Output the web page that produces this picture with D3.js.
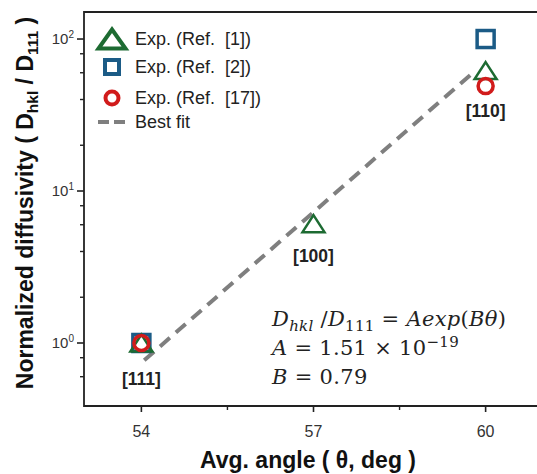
<!DOCTYPE html>
<html>
<head>
<meta charset="utf-8">
<script src="https://cdn.jsdelivr.net/npm/d3@7"></script>
<style>
  body { margin: 0; background: #fff; }
  svg { display: block; }
  .tick-label { font-family: "Liberation Sans", Arial, sans-serif; fill: #333; }
  .axis-title { font-family: "Liberation Sans", Arial, sans-serif; font-weight: bold; fill: #111; }
  .legend text { font-family: "Liberation Sans", Arial, sans-serif; font-size: 18px; fill: #222; white-space: pre; }
  .facet { font-family: "Liberation Sans", Arial, sans-serif; font-weight: bold; font-size: 17.5px; fill: #222; }
  .eq { font-family: "DejaVu Serif", serif; font-size: 21px; letter-spacing: 0.3px; fill: #222; white-space: pre; }
</style>
</head>
<body>
<div id="chart"></div>
<script>
// values
var refLabels = ["Exp. (Ref.  [1])", "Exp. (Ref.  [2])", "Exp. (Ref.  [17])", "Best fit"];
var ref1Angles = [54, 57, 60];
var ref1Values = [1, 6.1, 62];
var ref2Angles = [54, 60];
var ref2Values = [1, 100];
var ref17Angles = [54, 60];
var ref17Values = [1, 49];
var fitAngles = [54.05, 59.8];
var fitValues = [0.77, 61];
var facetLabels = ["[111]", "[100]", "[110]"];
var facetAngles = [54, 57, 60];
var facetValues = [1, 6.1, 49];
var xTicks = [54, 57, 60];
var xMinorTicks = [55.5, 58.5];
var yTicks = [1, 10, 100];
var yTickExp = ["0", "1", "2"];
var yMinorTicks = [0.6, 0.8, 2, 4, 6, 8, 20, 40, 60, 80];

var W = 537, H = 474;
var margin = { top: 12, left: 84, bottom: 68 };
var plotH = H - margin.top - margin.bottom;

var colors = { ref1: "#1d6b32", ref2: "#1b5b86", ref17: "#d11b1b", fit: "#7f7f7f" };

var x = d3.scaleLinear().domain([53, 61]).range([margin.left, margin.left + 459]);
var y = d3.scaleLog().domain([0.385, 150.6]).range([margin.top + plotH, margin.top]);

var svg = d3.select("#chart").append("svg")
    .attr("width", W)
    .attr("height", H);

// frame: left, top, bottom
var x0 = margin.left, yTop = margin.top, yBot = margin.top + plotH;
svg.append("path")
    .attr("d", "M" + W + "," + yTop + "H" + x0 + "V" + yBot + "H" + W)
    .attr("fill", "none")
    .attr("stroke", "#222")
    .attr("stroke-width", 1.8);

// x ticks
svg.selectAll(".xtick").data(xTicks).enter().append("line")
    .attr("x1", function (d) { return x(d); }).attr("x2", function (d) { return x(d); })
    .attr("y1", yBot).attr("y2", yBot + 6)
    .attr("stroke", "#222").attr("stroke-width", 1.6);
svg.selectAll(".xminor").data(xMinorTicks).enter().append("line")
    .attr("x1", function (d) { return x(d); }).attr("x2", function (d) { return x(d); })
    .attr("y1", yBot).attr("y2", yBot + 4)
    .attr("stroke", "#222").attr("stroke-width", 1.4);
svg.selectAll(".xlab").data(xTicks).enter().append("text")
    .attr("class", "tick-label")
    .attr("x", function (d) { return x(d); })
    .attr("y", yBot + 31)
    .attr("text-anchor", "middle")
    .attr("font-size", 16)
    .text(function (d) { return d; });

// y ticks
svg.selectAll(".ytick").data(yTicks).enter().append("line")
    .attr("x1", x0 - 7).attr("x2", x0)
    .attr("y1", function (d) { return y(d); }).attr("y2", function (d) { return y(d); })
    .attr("stroke", "#222").attr("stroke-width", 1.6);
svg.selectAll(".yminor").data(yMinorTicks).enter().append("line")
    .attr("x1", x0 - 4).attr("x2", x0)
    .attr("y1", function (d) { return y(d); }).attr("y2", function (d) { return y(d); })
    .attr("stroke", "#222").attr("stroke-width", 1.4);
var ylab = svg.selectAll(".ylab").data(yTicks).enter().append("text")
    .attr("class", "tick-label")
    .attr("x", x0 - 10)
    .attr("y", function (d) { return y(d) + 5; })
    .attr("text-anchor", "end")
    .attr("font-size", 15);
ylab.append("tspan").text("10");
ylab.append("tspan").attr("dy", -6).attr("font-size", 10).text(function (d, i) { return yTickExp[i]; });

// axis titles
svg.append("text")
    .attr("class", "axis-title")
    .attr("x", 308).attr("y", 468)
    .attr("text-anchor", "middle")
    .attr("font-size", 23)
    .text("Avg. angle ( θ, deg )");

var yt = svg.append("text")
    .attr("class", "axis-title")
    .attr("transform", "translate(33," + 203 + ") rotate(-90)")
    .attr("text-anchor", "middle")
    .attr("font-size", 23);
yt.append("tspan").text("Normalized diffusivity ( D");
yt.append("tspan").attr("font-size", 15.5).attr("dy", 5).text("hkl");
yt.append("tspan").attr("dy", -5).text(" / D");
yt.append("tspan").attr("font-size", 15.5).attr("dy", 5).text("111");
yt.append("tspan").attr("dy", -5).text(" )");

// best fit
svg.append("path")
    .datum(fitAngles.map(function (a, i) { return [a, fitValues[i]]; }))
    .attr("d", d3.line().x(function (d) { return x(d[0]); }).y(function (d) { return y(d[1]); }))
    .attr("fill", "none")
    .attr("stroke", colors.fit)
    .attr("stroke-width", 4)
    .attr("stroke-dasharray", "13,8");

// marker shapes
function triPath(w, h) {
    return "M0," + (-h / 2) + "L" + (w / 2) + "," + (h / 2) + "L" + (-w / 2) + "," + (h / 2) + "Z";
}
function drawMarkers(angles, values, shape, color, sw) {
    var g = svg.append("g");
    var pts = g.selectAll("g").data(angles).enter().append("g")
        .attr("transform", function (d, i) { return "translate(" + x(d) + "," + y(values[i]) + ")"; });
    if (shape === "square") {
        pts.append("rect").attr("x", -8.5).attr("y", -8.5).attr("width", 17).attr("height", 17);
    } else if (shape === "circle") {
        pts.append("circle").attr("r", 7.5);
    } else {
        pts.append("path").attr("d", triPath(22, 17));
    }
    pts.selectAll("*").attr("fill", "none").attr("stroke", color).attr("stroke-width", sw);
}
drawMarkers(ref2Angles, ref2Values, "square", colors.ref2, 3.5);
drawMarkers(ref1Angles, ref1Values, "triangle", colors.ref1, 2.5);
drawMarkers(ref17Angles, ref17Values, "circle", colors.ref17, 3.5);

// facet labels
var facetDy = [42, 38, 31];
svg.selectAll(".facet").data(facetLabels).enter().append("text")
    .attr("class", "facet")
    .attr("x", function (d, i) { return x(facetAngles[i]); })
    .attr("y", function (d, i) { return y(facetValues[i]) + facetDy[i]; })
    .attr("text-anchor", "middle")
    .text(function (d) { return d; });

// legend
var legend = svg.append("g").attr("class", "legend");
var legY = [39, 67, 98, 122];
refLabels.forEach(function (lab, i) {
    var row = legend.append("g").attr("transform", "translate(112," + legY[i] + ")");
    if (i === 0) {
        row.append("path").attr("d", triPath(27, 19)).attr("fill", "none").attr("stroke", colors.ref1).attr("stroke-width", 4);
    } else if (i === 1) {
        row.append("rect").attr("x", -7).attr("y", -7).attr("width", 14).attr("height", 14)
            .attr("fill", "none").attr("stroke", colors.ref2).attr("stroke-width", 4);
    } else if (i === 2) {
        row.append("circle").attr("r", 6.5).attr("fill", "none").attr("stroke", colors.ref17).attr("stroke-width", 4);
    } else {
        row.append("line").attr("x1", -14).attr("x2", 15).attr("y1", 0).attr("y2", 0)
            .attr("stroke", colors.fit).attr("stroke-width", 4).attr("stroke-dasharray", "11,5");
    }
    row.append("text").attr("x", 23).attr("y", 6).text(lab);
});

// equation
var eq = svg.append("g").attr("class", "eq");
var l1 = eq.append("text").attr("x", 272).attr("y", 326);
l1.append("tspan").attr("font-style", "italic").text("D");
l1.append("tspan").attr("font-style", "italic").attr("font-size", 15).attr("dy", 5).text("hkl");
l1.append("tspan").attr("dy", -5).text(" /");
l1.append("tspan").attr("font-style", "italic").text("D");
l1.append("tspan").attr("font-size", 15).attr("dy", 5).text("111");
l1.append("tspan").attr("dy", -5).text(" = ");
l1.append("tspan").attr("font-style", "italic").text("Aexp");
l1.append("tspan").text("(");
l1.append("tspan").attr("font-style", "italic").text("Bθ");
l1.append("tspan").text(")");

var l2 = eq.append("text").attr("x", 272).attr("y", 355);
l2.append("tspan").attr("font-style", "italic").text("A");
l2.append("tspan").text(" = 1.51 × 10");
l2.append("tspan").attr("font-size", 15).attr("dy", -8).text("−19");

var l3 = eq.append("text").attr("x", 272).attr("y", 384);
l3.append("tspan").attr("font-style", "italic").text("B");
l3.append("tspan").text(" = 0.79");
</script>
</body>
</html>
